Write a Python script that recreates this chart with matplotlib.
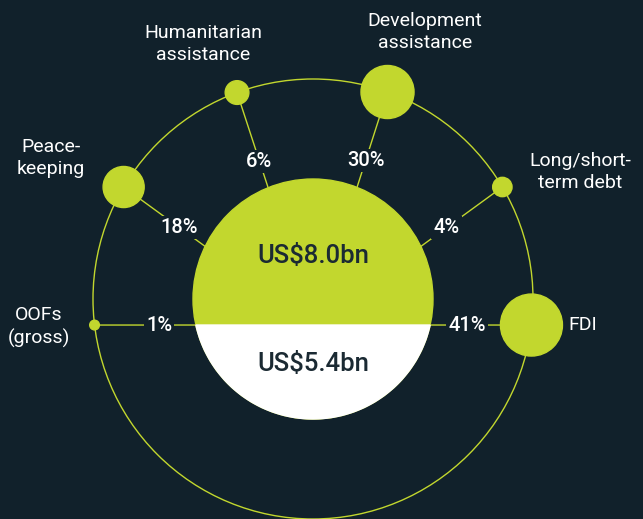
import numpy as np
import matplotlib
matplotlib.use("Agg")
import matplotlib.pyplot as plt
from matplotlib.patches import Circle, Polygon

# data
categories = ["OOFs\n(gross)", "Peace-\nkeeping", "Humanitarian\nassistance",
              "Development\nassistance", "Long/short-\nterm debt", "FDI"]
shares = [1, 18, 6, 30, 4, 41]          # % of total
angles = [186.8, 149.4, 110.2, 70.2, 30.6, -6.8]  # position on ring, degrees
totals = ["US$8.0bn", "US$5.4bn"]

bg = "#11212b"
lime = "#c2d72e"
white = "#ffffff"

plt.rcParams["font.family"] = ["Roboto", "DejaVu Sans"]

fig = plt.figure(figsize=(6.43, 5.19), dpi=100, facecolor=bg)
ax = fig.add_axes([0, 0, 1, 1])
ax.set_facecolor(bg)
ax.set_xlim(0, 643)
ax.set_ylim(519, 0)
ax.set_aspect("equal")
ax.axis("off")

cx, cy = 313, 299      # ring / big circle centre
ring_r = 220
big_r = 120
split_y = 325          # where green meets white
hub = (cx, split_y)    # spokes point here

# outer ring
ax.add_patch(Circle((cx, cy), ring_r, fill=False, edgecolor=lime, lw=1.0, zorder=1))

# label layout: (x, y, ha) for each category
label_pos = [(39, 327, "center"), (51, 158, "center"), (203, 44, "center"),
             (425, 32, "center"), (580, 172, "center"), (568, 325, "left")]

scale = 31 / np.sqrt(41)
for cat, p, a, (lx, ly, ha) in zip(categories, shares, angles, label_pos):
    t = np.radians(a)
    px = cx + ring_r * np.cos(t)
    py = cy - ring_r * np.sin(t)
    r = scale * np.sqrt(p)
    ax.plot([px, hub[0]], [py, hub[1]], color=lime, lw=1.0, zorder=2)
    ax.add_patch(Circle((px, py), r, color=lime, zorder=3))
    f = 0.295
    tx = px + (hub[0] - px) * f
    ty = py + (hub[1] - py) * f
    ax.text(tx, ty, f"{p}%", color=white, fontsize=14.5, fontweight="medium",
            ha="center", va="center", zorder=4,
            bbox=dict(facecolor=bg, edgecolor="none", pad=1.5))
    ax.text(lx, ly, cat, color=white, fontsize=14, ha=ha, va="center",
            linespacing=1.35, zorder=4)

# central circle: green top, white bottom segment
theta = np.linspace(0, 2 * np.pi, 400)
xs = cx + big_r * np.cos(theta)
ys = cy + big_r * np.sin(theta)
ax.add_patch(Circle((cx, cy), big_r, color=lime, zorder=5))
below = ys >= split_y
half = np.sqrt(big_r ** 2 - (split_y - cy) ** 2)
seg = np.column_stack([xs[below], ys[below]])
seg = seg[np.argsort(np.arctan2(seg[:, 1] - cy, seg[:, 0] - cx))]
poly = np.vstack([[cx + half, split_y], seg, [cx - half, split_y]])
ax.add_patch(Polygon(poly, closed=True, color=white, zorder=6))

ax.text(cx, 256, totals[0], color="#1b2a33", fontsize=18.5, fontweight="medium",
        ha="center", va="center", zorder=7)
ax.text(cx, 364, totals[1], color="#1b2a33", fontsize=18.5, fontweight="medium",
        ha="center", va="center", zorder=7)

fig.savefig("out.png", dpi=100, facecolor=bg)
